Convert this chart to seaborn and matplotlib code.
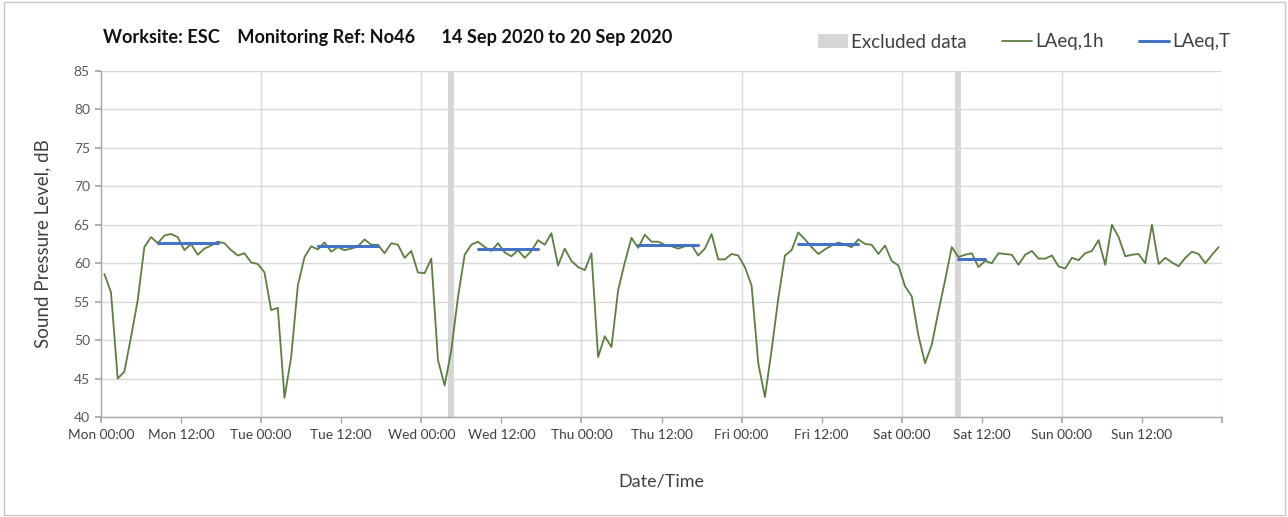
import numpy as np
import pandas as pd
import matplotlib
matplotlib.use("Agg")
import matplotlib.pyplot as plt
import seaborn as sns
from matplotlib.patches import Patch, Rectangle
from matplotlib.lines import Line2D

# hourly LAeq,1h values, Mon 00:00 .. Sun 23:00
mon = [58.6, 56.2, 45.0, 45.9, 50.4, 55.2, 62.1, 63.4, 62.6, 63.6, 63.8, 63.4,
       61.7, 62.5, 61.1, 61.9, 62.3, 62.8, 62.6, 61.7, 61.0, 61.3, 60.1, 59.9]
tue = [58.8, 53.9, 54.2, 42.5, 47.8, 57.1, 60.8, 62.2, 61.8, 62.7, 61.5, 62.1,
       61.7, 61.9, 62.2, 63.1, 62.4, 62.4, 61.3, 62.6, 62.4, 60.7, 61.6, 58.8]
wed = [58.7, 60.6, 47.4, 44.1, 48.7, 55.6, 61.1, 62.4, 62.8, 62.1, 61.6, 62.6,
       61.4, 60.9, 61.7, 60.7, 61.6, 63.0, 62.4, 63.9, 59.7, 61.9, 60.3, 59.5]
thu = [59.1, 61.3, 47.8, 50.5, 49.1, 56.5, 60.1, 63.3, 62.0, 63.7, 62.8, 62.8,
       62.4, 62.2, 61.9, 62.2, 62.4, 61.0, 61.9, 63.8, 60.5, 60.5, 61.2, 61.0]
fri = [59.5, 57.1, 47.0, 42.6, 48.7, 55.4, 61.0, 61.7, 64.0, 63.1, 62.1, 61.2,
       61.8, 62.3, 62.7, 62.4, 62.1, 63.1, 62.5, 62.4, 61.2, 62.3, 60.3, 59.7]
sat = [57.0, 55.7, 50.6, 47.0, 49.4, 53.7, 57.8, 62.1, 60.8, 61.1, 61.3, 59.5,
       60.3, 60.0, 61.3, 61.2, 61.1, 59.8, 61.1, 61.6, 60.6, 60.6, 61.0, 59.6]
sun = [59.3, 60.7, 60.4, 61.3, 61.6, 63.0, 59.8, 65.0, 63.4, 60.9, 61.1, 61.2,
       60.0, 65.0, 59.9, 60.7, 60.1, 59.6, 60.7, 61.5, 61.2, 60.0, 61.1, 62.1]
laeq_1h = mon + tue + wed + thu + fri + sat + sun

# LAeq,T periods (first and last hour index) and levels
period_start = [8, 32, 56, 80, 104, 128]
period_end = [17, 41, 65, 89, 113, 132]
laeq_t = [62.6, 62.2, 61.9, 62.4, 62.5, 60.6]

# excluded hours (index)
excluded = [52, 128]

days = ["Mon", "Tue", "Wed", "Thu", "Fri", "Sat", "Sun"]
legend_labels = ["Excluded data", "LAeq,1h", "LAeq,T"]

green = "#5b7f3e"
blue = "#4472c4"
grey_band = "#d6d6d6"

sns.set_theme(style="white")
plt.rcParams["font.family"] = ["Lato", "DejaVu Sans"]

df = pd.DataFrame({"hour": np.arange(len(laeq_1h)) + 0.5, "level": laeq_1h})

fig = plt.figure(figsize=(12.88, 5.17), dpi=100)
ax = fig.add_axes([101 / 1288, 1 - 417 / 517, 1121 / 1288, 346 / 517])

for h in excluded:
    ax.axvspan(h + 0.05, h + 0.95, color=grey_band, lw=0, zorder=1)

sns.lineplot(data=df, x="hour", y="level", color=green, lw=1.3, ax=ax, zorder=3)

for s, e, v in zip(period_start, period_end, laeq_t):
    seg = pd.DataFrame({"hour": [s + 0.5, e + 0.5], "level": [v, v]})
    sns.lineplot(data=seg, x="hour", y="level", color=blue, lw=2.2, ax=ax, zorder=4)

ax.set_xlim(0, 168)
ax.set_ylim(40, 85)
ax.set_yticks(np.arange(40, 86, 5))
ax.set_xticks(np.arange(0, 169, 24))
ax.set_xticks(np.arange(0, 169, 12), minor=True)
ax.set_xticklabels([])
for k in range(14):
    ax.text(k * 12, 37.6, f"{days[k // 2]} {'00:00' if k % 2 == 0 else '12:00'}",
            ha="center", va="center", fontsize=9.8, color="#404040")

ax.grid(axis="y", color="#d9d9d9", lw=1)
ax.grid(axis="x", which="major", color="#d9d9d9", lw=1)
ax.set_axisbelow(True)
for sp in ["top", "right"]:
    ax.spines[sp].set_visible(False)
for sp in ["left", "bottom"]:
    ax.spines[sp].set_color("#a6a6a6")
    ax.spines[sp].set_linewidth(1)
ax.tick_params(axis="y", which="both", left=True, length=4, color="#a6a6a6",
               labelsize=10, labelcolor="#595959", pad=4)
ax.tick_params(axis="x", which="both", bottom=True, length=4, color="#a6a6a6")

ax.set_xlabel("Date/Time", fontsize=13, color="#404040", labelpad=33)
ax.set_ylabel("Sound Pressure Level, dB", fontsize=13.5, color="#404040", labelpad=16)

fig.text(103 / 1288, 1 - 38 / 517,
         "Worksite: ESC    Monitoring Ref: No46      14 Sep 2020 to 20 Sep 2020",
         fontsize=13.1, fontweight="bold", color="#111111", va="center", ha="left")

handles = [Patch(facecolor=grey_band, edgecolor="none"),
           Line2D([0], [0], color=green, lw=1.3),
           Line2D([0], [0], color=blue, lw=2.2)]
fig.legend(handles, legend_labels, loc="center right", ncol=3, frameon=False,
           bbox_to_anchor=(1247 / 1288, 1 - 42 / 517), fontsize=13.5,
           handlelength=1.6, handletextpad=0.15, columnspacing=1.9,
           labelcolor="#404040")

fig.patches.append(Rectangle((4 / 1288, 0.003), 1281 / 1288, 0.994,
                             transform=fig.transFigure, fill=False,
                             edgecolor="#c8c8c8", lw=1))

fig.savefig("out.png", dpi=100, facecolor="white")
